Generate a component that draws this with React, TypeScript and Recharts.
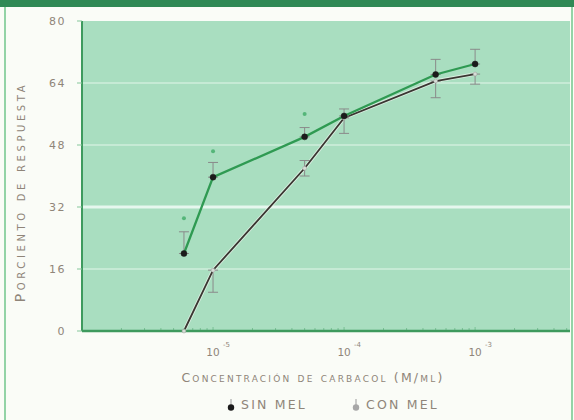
import { ComposedChart, Line, XAxis, YAxis, CartesianGrid, ErrorBar, ReferenceLine } from "recharts";

// carbachol concentration (M/ml) and % response, with/without melatonin
const concentrations = [6e-6, 1e-5, 5e-5, 1e-4, 5e-4, 1e-3];
const sinMel = [20, 39.7, 50.1, 55.5, 66.2, 68.9];
const sinMelErr = [[0, 5.6], [0, 3.8], [0, 2.4], [0, 1.8], [0, 3.9], [0, 3.8]];
const conMel = [0, 15.7, 42, 55, 64.5, 66.3];
const conMelErr = [[0, 0], [5.7, 0], [2, 2], [4, 0], [4.3, 0], [2.6, 0]];

// significance marks above the sin-MEL points
const sigConcentrations = [6e-6, 1e-5, 5e-5];
const sigValues = [29.1, 46.4, 56];

const yTicks = [0, 16, 32, 48, 64, 80];
const gridValues = [16, 48, 64];
const decadeTicks = [1e-5, 1e-4, 1e-3];
const minorTicks = [
  2e-6, 3e-6, 4e-6, 5e-6, 6e-6, 7e-6, 8e-6, 9e-6,
  2e-5, 3e-5, 4e-5, 5e-5, 6e-5, 7e-5, 8e-5, 9e-5,
  2e-4, 3e-4, 4e-4, 5e-4, 6e-4, 7e-4, 8e-4, 9e-4,
  2e-3, 3e-3, 4e-3, 5e-3,
];

const rows = concentrations.map((c, i) => ({
  conc: c,
  sin: sinMel[i],
  sinErr: sinMelErr[i],
  con: conMel[i],
  conErr: conMelErr[i],
}));
const sigRows = sigConcentrations.map((c, i) => ({ conc: c, sig: sigValues[i] }));

const TEXT = "#8f8579";
const FONT = "'DejaVu Sans', sans-serif";
const AXIS_GREEN = "#3e9a5e";

function XTick(props: any) {
  const { x, y, payload } = props;
  const v = payload.value;
  const major = decadeTicks.some((d) => Math.abs(d - v) / d < 1e-6);
  const exp = Math.round(Math.log10(v));
  return (
    <g>
      <line x1={x} x2={x} y1={y - 1} y2={y - (major ? 4 : 3)} stroke={AXIS_GREEN} strokeOpacity={0.45} />
      {major && (
        <g fill={TEXT} fontFamily={FONT}>
          <text x={x} y={y + 25} textAnchor="middle" fontSize={10.5}>10</text>
          <text x={x + 10} y={y + 16} fontSize={7}>{exp}</text>
        </g>
      )}
    </g>
  );
}

function YTitle() {
  return (
    <text
      x={20}
      y={192}
      transform="rotate(-90 20 192)"
      textAnchor="middle"
      dominantBaseline="central"
      fill={TEXT}
      fontFamily={FONT}
      fontSize={14}
      letterSpacing={3.6}
      style={{ fontVariant: "small-caps" }}
    >
      Porciento de respuesta
    </text>
  );
}

function XTitle() {
  return (
    <text
      x={313}
      y={382}
      textAnchor="middle"
      fill={TEXT}
      fontFamily={FONT}
      fontSize={12.5}
      letterSpacing={2.2}
      style={{ fontVariant: "small-caps" }}
    >
      Concentración de carbacol (M/ml)
    </text>
  );
}

function SigDot(props: any) {
  const { cx, cy } = props;
  if (typeof cx !== "number" || typeof cy !== "number") return null;
  return <circle cx={cx} cy={cy} r={2} fill="#3aa862" opacity={0.75} />;
}

function LegendKey({ color, label }: { color: string; label: string }) {
  return (
    <span style={{ display: "inline-flex", alignItems: "center", marginRight: 44 }}>
      <svg width={10} height={14} style={{ marginRight: 5 }}>
        <line x1={5} x2={5} y1={1} y2={9} stroke="#9a9a9a" />
        <circle cx={5} cy={9.5} r={3.2} fill={color} />
      </svg>
      {label}
    </span>
  );
}

export default function App() {
  return (
    <div style={{ position: "fixed", left: 0, top: 0, width: 574, height: 420, background: "#fafcf7", overflow: "hidden" }}>
      <div style={{ position: "absolute", left: 0, top: 0, width: 574, height: 7, background: "#2f8955" }} />
      <div style={{ position: "absolute", left: 4, top: 7, width: 2, height: 413, background: "#93d3a6" }} />
      <div style={{ position: "absolute", left: 571, top: 7, width: 2, height: 413, background: "#93d3a6" }} />
      <div style={{ position: "absolute", left: 0, top: 0 }}>
        <ComposedChart width={574} height={420} data={rows} margin={{ top: 21, right: 4, bottom: 59, left: 22 }}>
          <CartesianGrid horizontal={false} vertical={false} fill="#a9dec0" fillOpacity={1} stroke="none" />
          {gridValues.map((g) => (
            <ReferenceLine key={g} y={g} stroke="#d6f0e1" strokeWidth={1.3} strokeOpacity={0.85} />
          ))}
          <ReferenceLine y={32} stroke="#e6f7ee" strokeWidth={3} />
          <XAxis
            type="number"
            dataKey="conc"
            scale="log"
            domain={[1e-6, 5.3e-3]}
            allowDataOverflow
            ticks={[...minorTicks, ...decadeTicks].sort((a, b) => a - b)}
            interval={0}
            tick={<XTick />}
            tickLine={false}
            tickSize={0}
            tickMargin={0}
            height={30}
            axisLine={{ stroke: AXIS_GREEN, strokeWidth: 2.5 }}
            label={<XTitle />}
          />
          <YAxis
            type="number"
            domain={[0, 80]}
            ticks={yTicks}
            interval={0}
            width={60}
            tickSize={5}
            tickMargin={11}
            tickLine={{ stroke: "#86c79b" }}
            axisLine={{ stroke: AXIS_GREEN, strokeWidth: 2 }}
            tick={{ fill: TEXT, fontSize: 11, fontFamily: FONT, letterSpacing: 1.5 }}
            label={<YTitle />}
          />
          <Line
            dataKey="con"
            type="linear"
            stroke="#eef5ee"
            strokeOpacity={0.7}
            strokeWidth={3.6}
            dot={false}
            activeDot={false}
            isAnimationActive={false}
            legendType="none"
          />
          <Line
            dataKey="con"
            type="linear"
            stroke="#3a3631"
            strokeWidth={1.8}
            dot={{ r: 2, fill: "#d5dcd5", stroke: "#9b9b9b", strokeWidth: 0.5 }}
            activeDot={false}
            isAnimationActive={false}
          >
            <ErrorBar dataKey="conErr" width={5} stroke="#8a8a8a" strokeWidth={1} direction="y" />
          </Line>
          <Line
            dataKey="sin"
            type="linear"
            stroke="#2f9a52"
            strokeWidth={2.3}
            dot={{ r: 3, fill: "#1b1b1b", stroke: "#1b1b1b", strokeWidth: 0.5 }}
            activeDot={false}
            isAnimationActive={false}
          >
            <ErrorBar dataKey="sinErr" width={5} stroke="#8a8a8a" strokeWidth={1} direction="y" />
          </Line>
          <Line
            data={sigRows}
            dataKey="sig"
            stroke="none"
            dot={<SigDot />}
            activeDot={false}
            isAnimationActive={false}
          />
        </ComposedChart>
      </div>
      <div
        style={{
          position: "absolute",
          left: 226,
          top: 397,
          display: "flex",
          color: TEXT,
          fontFamily: FONT,
          fontSize: 12.5,
          letterSpacing: 2.2,
          whiteSpace: "nowrap",
        }}
      >
        <LegendKey color="#1b1b1b" label="SIN MEL" />
        <LegendKey color="#a7a7a7" label="CON MEL" />
      </div>
    </div>
  );
}
